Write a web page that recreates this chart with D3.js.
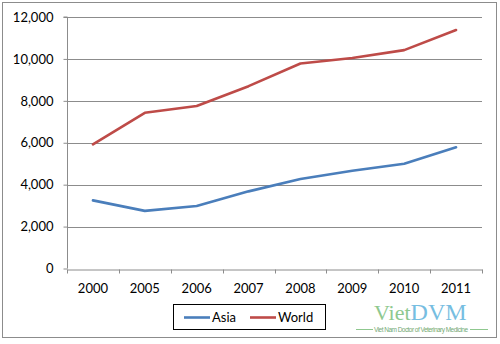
<!DOCTYPE html>
<html><head><meta charset="utf-8">
<script src="https://cdn.jsdelivr.net/npm/d3@7"></script>
<style>body{margin:0;background:#fff}svg{display:block}</style>
</head><body>
<script>
const years = ["2000","2005","2006","2007","2008","2009","2010","2011"];
const asia  = [3250, 2750, 2980, 3680, 4270, 4660, 5000, 5780];
const world = [5920, 7430, 7750, 8700, 9780, 10040, 10420, 11380];
const yTicks = [0, 2000, 4000, 6000, 8000, 10000, 12000];
const seriesNames = ["Asia", "World"];
const seriesColors = ["#4A7EBB", "#BE4B48"];

const W = 500, H = 344;
const svg = d3.select("body").append("svg").attr("width", W).attr("height", H);
const font = "Lato, 'Liberation Sans', sans-serif";

svg.append("rect").attr("x", 2.5).attr("y", 2.5).attr("width", 494).attr("height", 335)
  .attr("fill", "#fff").attr("stroke", "#8c8c8c").attr("stroke-width", 1);

const x = d3.scaleBand().domain(years).range([67, 482]);
const y = d3.scaleLinear().domain([0, 12000]).range([268.5, 17]);

// gridlines
svg.append("g").selectAll("line").data(yTicks.filter(d => d > 0)).join("line")
  .attr("x1", 67).attr("x2", 482)
  .attr("y1", d => Math.round(y(d)) + 0.5).attr("y2", d => Math.round(y(d)) + 0.5)
  .attr("stroke", "#8c8c8c").attr("stroke-width", 1);

// y axis
const yAxis = svg.append("g").attr("transform", "translate(67.5,0)")
  .call(d3.axisLeft(y).tickValues(yTicks).tickSize(4).tickFormat(d3.format(",")));
yAxis.select(".domain").attr("stroke", "#8c8c8c").attr("d", `M-4,${y(12000)}H0V${y(0)}`);
yAxis.selectAll(".tick line").attr("stroke", "#8c8c8c");
yAxis.selectAll(".tick text").attr("font-family", font).attr("font-size", 13)
  .attr("fill", "#000").attr("x", -14);

// x axis
const xAxis = svg.append("g").attr("transform", `translate(0,${Math.round(y(0)) + 0.5})`)
  .call(d3.axisBottom(x).tickSize(0).tickPadding(14));
xAxis.select(".domain").attr("stroke", "#8c8c8c");
xAxis.selectAll(".tick text").attr("font-family", font).attr("font-size", 13).attr("fill", "#000");
const edges = years.map(d => x(d)).concat([x.range()[1]]);
svg.append("g").selectAll("line").data(edges).join("line")
  .attr("x1", d => Math.round(d) + 0.5).attr("x2", d => Math.round(d) + 0.5)
  .attr("y1", Math.round(y(0)) + 0.5).attr("y2", Math.round(y(0)) + 4.5)
  .attr("stroke", "#8c8c8c");

// lines
const line = d3.line().x((d, i) => x(years[i]) + x.bandwidth() / 2).y(d => y(d));
[asia, world].forEach((s, i) => {
  svg.append("path").datum(s).attr("d", line).attr("fill", "none")
    .attr("stroke", seriesColors[i]).attr("stroke-width", 2.6)
    .attr("stroke-linejoin", "round").attr("stroke-linecap", "round");
});

// legend
const lg = svg.append("g");
lg.append("rect").attr("x", 173.5).attr("y", 304.5).attr("width", 152).attr("height", 25)
  .attr("fill", "#fff").attr("stroke", "#000").attr("stroke-width", 1);
const legX = [184, 250];
seriesNames.forEach((n, i) => {
  lg.append("line").attr("x1", legX[i]).attr("x2", legX[i] + 26)
    .attr("y1", 317.5).attr("y2", 317.5).attr("stroke", seriesColors[i]).attr("stroke-width", 2.6);
  lg.append("text").attr("x", legX[i] + 28).attr("y", 322).attr("font-family", font)
    .attr("font-size", 13).attr("fill", "#000").text(n);
});

// watermark
const wm = svg.append("g").attr("opacity", 0.85);
wm.append("text").attr("x", 374).attr("y", 320).attr("font-family", "'Liberation Serif', serif")
  .attr("font-size", 22).attr("fill", "#7cbf7c").text("Viet")
  .append("tspan").attr("fill", "#5fb3dc").attr("font-size", 24).text("DVM");
wm.append("line").attr("x1", 356).attr("x2", 373).attr("y1", 329.5).attr("y2", 329.5).attr("stroke", "#7cbf7c");
wm.append("line").attr("x1", 470).attr("x2", 488).attr("y1", 329.5).attr("y2", 329.5).attr("stroke", "#7cbf7c");
wm.append("text").attr("x", 421).attr("y", 331.5).attr("text-anchor", "middle")
  .attr("font-family", "'Liberation Sans Narrow', 'Liberation Sans', sans-serif")
  .attr("font-size", 6.5).attr("fill", "#5a9a5a").attr("textLength", 94)
  .text("Viet Nam Doctor of Veterinary Medicine");
</script>
</body></html>
